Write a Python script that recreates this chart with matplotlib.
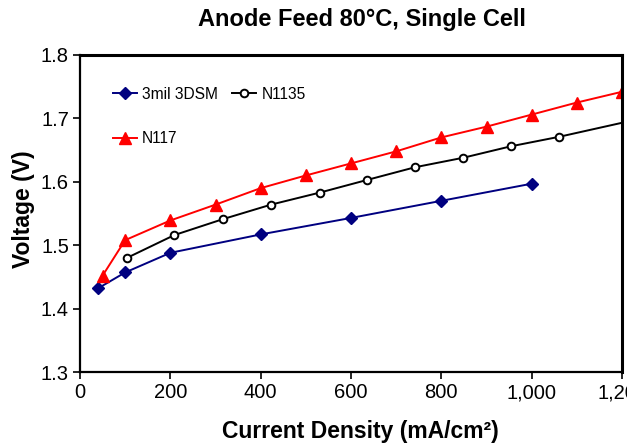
import numpy as np
import matplotlib
matplotlib.use("Agg")
import matplotlib.pyplot as plt
from matplotlib.ticker import FuncFormatter

plt.rcParams['font.family'] = ['Liberation Sans', 'DejaVu Sans']

# current density (mA/cm2) and cell voltage (V) for each membrane
x_3dsm = [40, 100, 200, 400, 600, 800, 1000]
v_3dsm = [1.432, 1.457, 1.488, 1.517, 1.543, 1.570, 1.597]

x_n1135 = [104, 209, 316, 423, 531, 636, 742, 849, 954, 1061, 1275]
v_n1135 = [1.480, 1.516, 1.541, 1.564, 1.583, 1.603, 1.623, 1.638, 1.656, 1.671, 1.705]

x_n117 = [50, 100, 200, 300, 400, 500, 600, 700, 800, 900, 1000, 1100, 1200]
v_n117 = [1.452, 1.508, 1.539, 1.564, 1.590, 1.610, 1.629, 1.648, 1.670, 1.687, 1.706, 1.725, 1.742]

x_ticks = [0, 200, 400, 600, 800, 1000, 1200]
y_ticks = [1.3, 1.4, 1.5, 1.6, 1.7, 1.8]

fig = plt.figure(figsize=(6.27, 4.44), dpi=100)
ax = fig.add_axes([80/627, 1 - 372/444, 542/627, 317/444])

l1, = ax.plot(x_3dsm, v_3dsm, color='#000080', marker='D', ms=6.5,
              lw=1.4, label='3mil 3DSM')
l2, = ax.plot(x_n1135, v_n1135, color='black', marker='o', ms=5.5,
              mfc='white', mew=1.4, lw=1.4, label='N1135')
l3, = ax.plot(x_n117, v_n117, color='#FF0000', marker='^', ms=8,
              lw=1.4, label='N117')

ax.set_xlim(0, 1200)
ax.set_ylim(1.3, 1.8)
ax.set_xticks(x_ticks)
ax.set_yticks(y_ticks)
ax.xaxis.set_major_formatter(FuncFormatter(lambda v, p: f'{int(v):,}'))
ax.yaxis.set_major_formatter(FuncFormatter(lambda v, p: f'{v:.1f}'))
ax.tick_params(direction='out', length=5, width=1.2, labelsize=14.5, pad=3)

for s in ['left', 'bottom']:
    ax.spines[s].set_linewidth(1.6)
for s in ['top', 'right']:
    ax.spines[s].set_linewidth(2.2)

ax.set_title('Anode Feed 80°C, Single Cell', fontsize=17, fontweight='bold',
             pad=21, x=0.52)
ax.set_xlabel('Current Density (mA/cm²)', fontsize=16.5, fontweight='bold',
              labelpad=13, x=0.517)
ax.set_ylabel('Voltage (V)', fontsize=16.5, fontweight='bold', labelpad=4, y=0.515)

ax.legend([l1, l3, l2], ['3mil 3DSM', 'N117', 'N1135'], ncol=2, frameon=False,
          loc='upper left', bbox_to_anchor=(0.06, 0.90), fontsize=11.2,
          borderpad=0, borderaxespad=0, labelspacing=1.9, handlelength=1.55,
          handletextpad=0.35, columnspacing=0.9)

fig.savefig('out.png', dpi=100)
